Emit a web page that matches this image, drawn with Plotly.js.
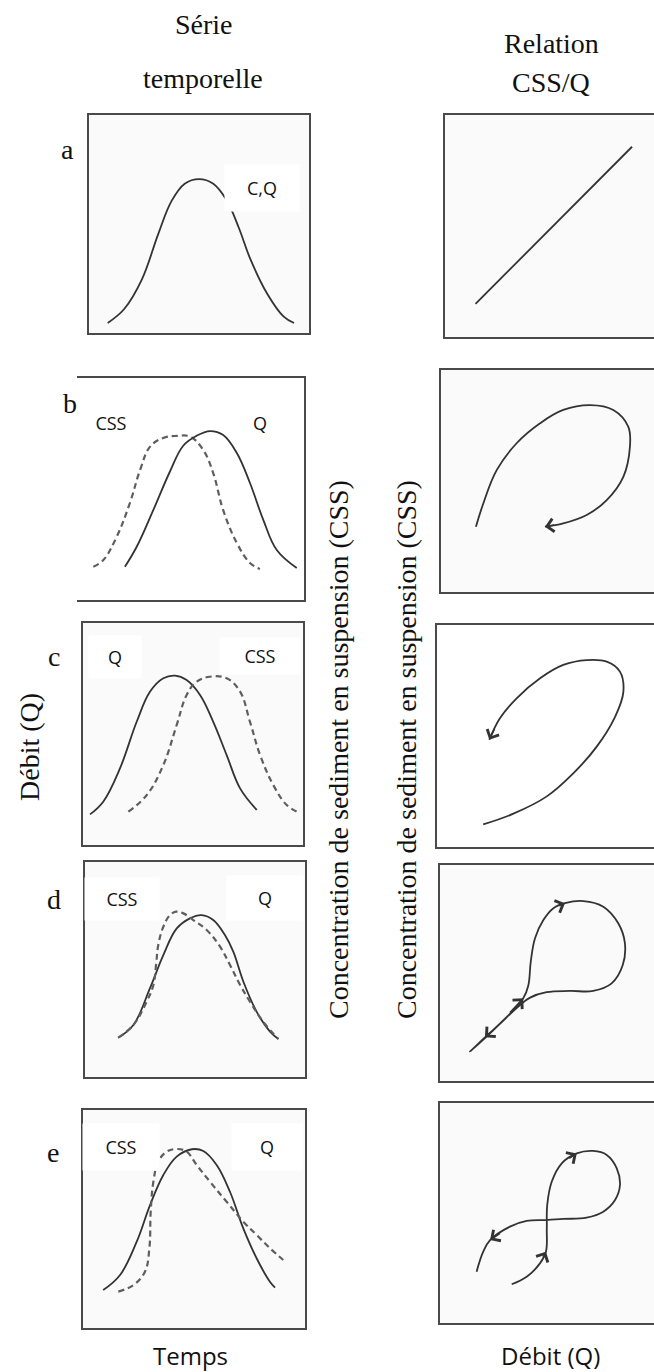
<!DOCTYPE html>
<html>
<head>
<meta charset="utf-8">
<script src="https://cdn.plot.ly/plotly-3.0.1.min.js"></script>
<style>
  html, body { margin: 0; padding: 0; background: #ffffff; }
  #fig { width: 654px; height: 1372px; }
</style>
</head>
<body>
<div id="fig"></div>
<script>
// ---- Séries temporelles (temps, débit Q, concentration CSS), échelle relative 0-10 ----
// a : C et Q confondus
const tempsA  = [0.85, 1.60, 2.40, 3.15, 3.75, 4.35, 5.00, 5.65, 6.25, 6.80, 7.35, 8.10, 8.85, 9.32];
const debitA  = [0.46, 1.10, 2.45, 4.55, 6.05, 6.85, 7.06, 6.85, 6.10, 4.85, 3.35, 1.80, 0.75, 0.46];

// b : la CSS précède le débit
const tempsQB = [2.11, 2.63, 3.36, 4.10, 4.68, 5.27, 5.86, 6.44, 7.04, 7.62, 8.21, 8.80, 9.68];
const debitB  = [1.50, 2.40, 4.05, 5.80, 6.95, 7.40, 7.61, 7.43, 6.62, 5.27, 3.60, 2.25, 1.44];
const tempsCB = [0.72, 1.16, 1.75, 2.33, 2.78, 3.22, 3.80, 4.39, 4.98, 5.56, 6.00, 6.44, 7.04, 7.62, 8.06];
const cssB    = [1.50, 1.80, 2.85, 4.37, 5.86, 6.91, 7.30, 7.39, 7.36, 6.76, 5.72, 4.05, 2.57, 1.67, 1.40];

// c : la CSS suit le débit
const tempsQC = [0.32, 0.92, 1.68, 2.44, 3.05, 3.65, 4.18, 4.71, 5.32, 5.92, 6.53, 7.14, 7.90];
const debitC  = [1.38, 1.95, 3.45, 5.55, 6.91, 7.51, 7.63, 7.43, 6.76, 5.55, 4.05, 2.55, 1.58];
const tempsCC = [2.06, 2.90, 3.65, 4.26, 4.71, 5.17, 5.77, 6.53, 7.14, 7.59, 8.05, 8.65, 9.26, 9.79];
const cssC    = [1.50, 2.25, 3.60, 5.41, 6.76, 7.36, 7.58, 7.51, 6.91, 5.55, 4.05, 2.70, 1.80, 1.47];

// d
const tempsQD = [1.51, 2.20, 2.95, 3.56, 4.17, 4.77, 5.30, 5.83, 6.36, 6.74, 7.20, 7.80, 8.41, 8.79];
const debitD  = [1.83, 2.42, 4.12, 5.67, 6.91, 7.38, 7.53, 7.30, 6.60, 5.83, 4.43, 3.04, 2.11, 1.77];
const tempsCD = [1.51, 2.20, 2.80, 3.11, 3.23, 3.33, 3.56, 3.86, 4.14, 4.47, 4.92, 5.53, 6.14, 6.59, 7.05, 7.50, 8.10, 8.79];
const cssD    = [1.83, 2.42, 3.50, 4.28, 5.21, 6.14, 6.99, 7.53, 7.69, 7.61, 7.30, 6.84, 6.06, 5.21, 4.28, 3.50, 2.57, 1.77];

// e
const tempsQE = [0.91, 1.67, 2.42, 3.02, 3.62, 4.22, 4.90, 5.42, 6.02, 6.62, 7.22, 7.82, 8.42, 8.65];
const debitE  = [1.74, 2.43, 3.96, 5.64, 7.02, 7.86, 8.20, 8.12, 7.48, 6.25, 4.57, 3.20, 2.12, 1.85];
const tempsCE = [1.59, 2.27, 2.79, 2.99, 3.05, 3.17, 3.39, 3.77, 4.22, 4.67, 5.12, 5.72, 6.47, 7.22, 7.82, 8.42, 9.02];
const cssE    = [1.67, 1.97, 2.58, 3.66, 5.34, 6.71, 7.63, 8.09, 8.21, 8.09, 7.48, 6.71, 5.79, 4.88, 4.27, 3.66, 3.12];

// ---- Relations CSS / Q (hystérésis) ----
const debitRelA = [1.46, 8.95];
const cssRelA   = [1.49, 8.57];

const debitRelB = [1.64, 1.99, 2.62, 3.55, 4.65, 5.74, 7.00, 8.09, 8.79, 8.87, 8.56, 7.78, 6.84, 5.74, 4.88];
const cssRelB   = [2.94, 4.00, 5.50, 6.70, 7.60, 8.20, 8.42, 8.20, 7.45, 6.55, 5.19, 4.14, 3.47, 3.09, 2.94];

const debitRelC = [2.13, 3.52, 5.06, 6.28, 7.36, 8.20, 8.59, 8.43, 7.82, 6.90, 5.82, 4.75, 3.67, 2.90, 2.41];
const cssRelC   = [1.02, 1.50, 2.28, 3.32, 4.52, 5.85, 7.00, 7.90, 8.35, 8.42, 8.20, 7.60, 6.70, 5.80, 4.83];

const debitRelD = [1.40, 2.65, 3.89, 4.13, 4.24, 4.44, 4.83, 5.30, 5.84, 6.70, 7.63, 8.33, 8.64, 8.54, 8.02, 7.16, 6.07, 4.98, 4.21, 3.74, 2.65, 2.10, 1.40];
const cssRelD   = [1.36, 2.51, 3.83, 4.44, 5.52, 6.61, 7.45, 8.00, 8.23, 8.33, 8.07, 7.30, 6.38, 5.37, 4.52, 4.17, 4.17, 4.11, 3.86, 3.52, 2.51, 2.02, 1.36];

const debitRelE = [3.35, 4.05, 4.67, 4.95, 4.99, 5.01, 5.22, 5.69, 6.39, 7.16, 7.79, 8.26, 8.41, 8.18, 7.63, 6.85, 5.76, 4.99, 4.05, 3.27, 2.34, 2.02, 1.71];
const cssRelE   = [1.76, 2.10, 2.71, 3.24, 4.30, 5.36, 6.42, 7.26, 7.71, 7.82, 7.64, 7.03, 6.27, 5.59, 5.06, 4.79, 4.73, 4.68, 4.64, 4.38, 3.77, 3.24, 2.33];

// indices where the direction arrows sit on each loop
const flechesB = [14];
const flechesC = [14];
const flechesD = [2, 8, 21];
const flechesE = [3, 8, 20];

// ---- page geometry ----
const W = 654, H = 1372;
const px = v => v / W;
const py = v => 1 - v / H;
const ax = n => (n === 1 ? 'x' : 'x' + n);
const ay = n => (n === 1 ? 'y' : 'y' + n);

const cadre = '#4a4a4a';
const trait = '#333333';
const tirets = '#5e5e5e';
const serif = 'Liberation Serif, Times New Roman, serif';
const sans = 'Open Sans, Liberation Sans, sans-serif';

// panel frames [left, right, top, bottom] in pixels
const cadres = [
  {n: 1,  l: 89,  r: 309, t: 115,  b: 333},
  {n: 2,  l: 445, r: 654, t: 115,  b: 337, droite: true},
  {n: 3,  l: 77,  r: 304, t: 378,  b: 600, sansGauche: true, blanc: true},
  {n: 4,  l: 441, r: 654, t: 370,  b: 592, droite: true},
  {n: 5,  l: 83,  r: 303, t: 623,  b: 845},
  {n: 6,  l: 437, r: 654, t: 625,  b: 847, droite: true, blanc: true},
  {n: 7,  l: 85,  r: 305, t: 862,  b: 1077},
  {n: 8,  l: 440, r: 654, t: 865,  b: 1081, droite: true},
  {n: 9,  l: 83,  r: 305, t: 1110, b: 1328},
  {n: 10, l: 440, r: 654, t: 1103, b: 1323, droite: true}
];

const layout = {
  width: W, height: H,
  margin: {l: 0, r: 0, t: 0, b: 0},
  paper_bgcolor: '#ffffff',
  plot_bgcolor: '#fafafa',
  showlegend: false,
  annotations: [],
  shapes: []
};

cadres.forEach(c => {
  const base = {
    range: [0, 10], showgrid: false, zeroline: false, showticklabels: false,
    ticks: '', fixedrange: true, showline: true, linecolor: cadre, linewidth: 1.6
  };
  layout[c.n === 1 ? 'xaxis' : 'xaxis' + c.n] = Object.assign({}, base, {
    domain: [px(c.l), px(c.r)], anchor: ay(c.n), mirror: true
  });
  layout[c.n === 1 ? 'yaxis' : 'yaxis' + c.n] = Object.assign({}, base, {
    domain: [py(c.b), py(c.t)], anchor: ax(c.n),
    mirror: !(c.droite || c.sansGauche),
    side: c.sansGauche ? 'right' : 'left'
  });
  if (c.blanc) {
    layout.shapes.push({
      type: 'rect', layer: 'below', xref: ax(c.n) + ' domain', yref: ay(c.n) + ' domain',
      x0: 0, x1: 1, y0: 0, y1: 1, fillcolor: '#ffffff', line: {width: 0}
    });
  }
});

function courbe(xs, ys, n, pointille) {
  return {
    type: 'scatter', mode: 'lines', x: xs, y: ys,
    xaxis: ax(n), yaxis: ay(n), hoverinfo: 'skip',
    line: {
      shape: 'spline', smoothing: 1.1,
      color: pointille ? tirets : trait,
      width: pointille ? 2.2 : 1.8,
      dash: pointille ? '6px,4px' : 'solid'
    }
  };
}

const data = [
  courbe(tempsA, debitA, 1, false),
  courbe(debitRelA, cssRelA, 2, false),
  courbe(tempsCB, cssB, 3, true),
  courbe(tempsQB, debitB, 3, false),
  courbe(debitRelB, cssRelB, 4, false),
  courbe(tempsQC, debitC, 5, false),
  courbe(tempsCC, cssC, 5, true),
  courbe(debitRelC, cssRelC, 6, false),
  courbe(tempsQD, debitD, 7, false),
  courbe(tempsCD, cssD, 7, true),
  courbe(debitRelD, cssRelD, 8, false),
  courbe(tempsQE, debitE, 9, false),
  courbe(tempsCE, cssE, 9, true),
  courbe(debitRelE, cssRelE, 10, false)
];

// direction arrows placed on the loops (tiny text box so short arrows still draw)
function fleches(xs, ys, idx, n) {
  idx.forEach(i => {
    const f = 0.5;
    layout.annotations.push({
      xref: ax(n), yref: ay(n), axref: ax(n), ayref: ay(n),
      x: xs[i], y: ys[i],
      ax: xs[i] + (xs[i - 1] - xs[i]) * f,
      ay: ys[i] + (ys[i - 1] - ys[i]) * f,
      text: '', font: {size: 1}, borderpad: 0, borderwidth: 0,
      showarrow: true, arrowhead: 4, arrowsize: 1.7,
      arrowwidth: 1.5, arrowcolor: trait, standoff: 0, startstandoff: 0
    });
  });
}
fleches(debitRelB, cssRelB, flechesB, 4);
fleches(debitRelC, cssRelC, flechesC, 6);
fleches(debitRelD, cssRelD, flechesD, 8);
fleches(debitRelE, cssRelE, flechesE, 10);

// free text placed in page pixels
function texte(t, x, y, taille, police, extra) {
  layout.annotations.push(Object.assign({
    text: t, xref: 'paper', yref: 'paper', x: px(x), y: py(y),
    xanchor: 'center', yanchor: 'middle', showarrow: false,
    font: {family: police, size: taille, color: '#111111'}
  }, extra || {}));
}
// series labels on white patches
function etiquette(t, x, y, w, h) {
  texte(t, x, y, 18, sans, {bgcolor: '#ffffff', width: w, height: h, borderpad: 0});
}

texte('Série', 204, 24, 28, serif);
texte('temporelle', 203, 79, 28, serif);
texte('Relation', 551, 44, 28, serif);
texte('CSS/Q', 551, 82, 28, serif);

texte('a', 67, 149, 28, serif);
texte('b', 70, 404, 28, serif);
texte('c', 54, 657, 28, serif);
texte('d', 54, 899, 28, serif);
texte('e', 53, 1152, 28, serif);

etiquette('C,Q', 262, 188, 74, 46);
etiquette('CSS', 111, 423, 62, 36);
etiquette('Q', 260, 423, 40, 36);
etiquette('Q', 115, 657, 52, 42);
etiquette('CSS', 260, 656, 80, 36);
etiquette('CSS', 122, 899, 74, 42);
etiquette('Q', 265, 898, 76, 44);
etiquette('CSS', 121, 1147, 76, 46);
etiquette('Q', 267, 1147, 70, 46);

texte('Débit (Q)', 30, 747, 28, serif, {textangle: -90});
texte('Concentration de sediment en suspension (CSS)', 338, 750, 28, serif, {textangle: -90});
texte('Concentration de sediment en suspension (CSS)', 406, 750, 28, serif, {textangle: -90});

texte('Temps', 190, 1355, 24, sans);
texte('Débit (Q)', 550, 1355, 24, sans);

Plotly.newPlot('fig', data, layout, {staticPlot: true, displayModeBar: false});
</script>
</body>
</html>
